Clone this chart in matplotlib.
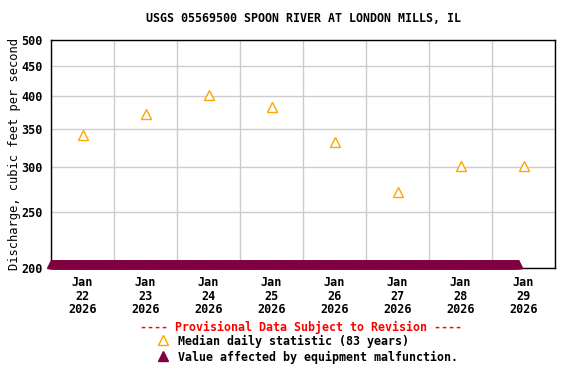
import matplotlib
matplotlib.use("Agg")
import matplotlib.pyplot as plt
import matplotlib.transforms as mtransforms
from matplotlib.lines import Line2D
import pandas as pd

# median daily statistic (83 years), plotted at noon of each day
median_days = ["2026-01-22", "2026-01-23", "2026-01-24", "2026-01-25",
               "2026-01-26", "2026-01-27", "2026-01-28", "2026-01-29"]
median_vals = [342, 372, 401, 382, 332, 271, 301, 301]

# equipment malfunction period (values held at the axis floor)
mal_start = "2026-01-22 00:00"
mal_end = "2026-01-29 10:00"
mal_value = 200

y_ticks = [200, 250, 300, 350, 400, 450, 500]

ORANGE = "#ffa500"
MAROON = "#800040"

plt.rcParams["font.family"] = "DejaVu Sans Mono"
plt.rcParams["font.weight"] = "bold"

fig = plt.figure(figsize=(5.76, 3.84), dpi=100)
ax = fig.add_axes([51 / 576, 1 - 268 / 384, (555 - 51) / 576, (268 - 40) / 384])

# malfunction flags sit on the floor of the plot
msize = 6
lift = mtransforms.ScaledTranslation(0, msize / 2 / 72, fig.dpi_scale_trans)
mal_t = pd.date_range(mal_start, mal_end, freq="15min")
ax.plot(mal_t, [mal_value] * len(mal_t), linestyle="none", marker="^",
        markersize=msize, color=MAROON, markeredgecolor=MAROON,
        transform=ax.transData + lift, clip_on=False, zorder=4)

med_t = pd.to_datetime(median_days) + pd.Timedelta(hours=12)
ax.plot(med_t, median_vals, linestyle="none", marker="^", markersize=7,
        markerfacecolor="white", markeredgecolor=ORANGE, markeredgewidth=1.0, zorder=5)

ax.set_yscale("log")
ax.set_ylim(200, 500)
ax.set_yticks(y_ticks)
ax.set_yticklabels([str(v) for v in y_ticks])
ax.yaxis.set_minor_locator(matplotlib.ticker.NullLocator())

ax.set_xlim(pd.Timestamp("2026-01-22"), pd.Timestamp("2026-01-30"))
day_edges = pd.date_range("2026-01-22", "2026-01-30", freq="D")
ax.set_xticks(day_edges)
ax.set_xticklabels([])
ax.set_xticks(med_t, minor=True)
ax.set_xticklabels([f"Jan\n{d.day}\n{d.year}" for d in pd.to_datetime(median_days)],
                   minor=True)

ax.tick_params(axis="both", which="both", length=0, labelsize=8.5)
ax.tick_params(axis="y", pad=6)
ax.tick_params(axis="x", which="minor", pad=6)
for lab in ax.get_xticklabels(minor=True):
    lab.set_linespacing(1.05)

ax.grid(True, which="major", color="#cccccc", linewidth=1.0)
ax.set_axisbelow(True)
for s in ax.spines.values():
    s.set_linewidth(1.0)

ax.set_ylabel("Discharge, cubic feet per second", fontsize=8.7, labelpad=0)

fig.text(303 / 576, 1 - 19 / 384, "USGS 05569500 SPOON RIVER AT LONDON MILLS, IL",
         ha="center", va="center", fontsize=8.4)
fig.text(301 / 576, 1 - 327 / 384, "---- Provisional Data Subject to Revision ----",
         ha="center", va="center", fontsize=8.4, color="red")

fig.add_artist(Line2D([163 / 576], [1 - 340 / 384], marker="^", markersize=7,
                      markerfacecolor="white", markeredgecolor=ORANGE,
                      transform=fig.transFigure, linestyle="none"))
fig.text(178 / 576, 1 - 341 / 384, "Median daily statistic (83 years)",
         ha="left", va="center", fontsize=8.4)
fig.add_artist(Line2D([163 / 576], [1 - 356 / 384], marker="^", markersize=7,
                      color=MAROON, transform=fig.transFigure, linestyle="none"))
fig.text(178 / 576, 1 - 357 / 384, "Value affected by equipment malfunction.",
         ha="left", va="center", fontsize=8.4)

fig.savefig("out.png", dpi=100)
